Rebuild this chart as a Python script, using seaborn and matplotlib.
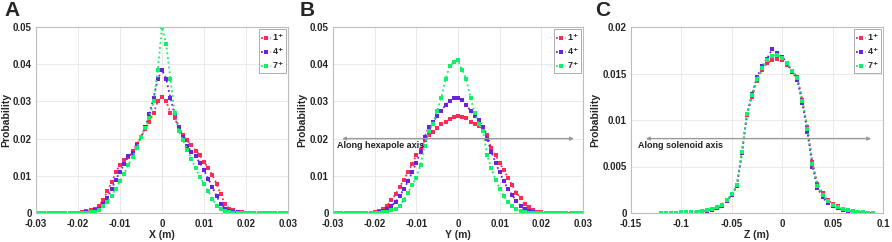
import numpy as np
import pandas as pd
import matplotlib
matplotlib.use("Agg")
import matplotlib.pyplot as plt
import seaborn as sns

sns.set_theme(style="whitegrid")
plt.rcParams['font.family'] = ['Liberation Sans', 'DejaVu Sans']
plt.rcParams['font.weight'] = 'bold'

series_names = ["1$^{+}$", "4$^{+}$", "7$^{+}$"]
series_colors = ["#FF2A55", "#6A22E0", "#12F06A"]

# ---- Panel A: X (m), step 0.001 from -0.030 to 0.030
x_a = [round(-0.030 + 0.001 * i, 3) for i in range(61)]
a_1 = [0, 0, 0, 0, 0, 0, 0, 0, 0, 0,
       0.0001, 0.0002, 0.0005, 0.0008, 0.0012, 0.002, 0.0035, 0.006, 0.0082, 0.011,
       0.013, 0.0142, 0.015, 0.0166, 0.0185, 0.0205, 0.0225, 0.0245, 0.027, 0.030,
       0.0313,
       0.0300, 0.027, 0.0255, 0.023, 0.021, 0.0195, 0.0182, 0.0168, 0.0155, 0.0138,
       0.012, 0.0102, 0.0078, 0.005, 0.0025, 0.0012, 0.0007, 0.0004, 0.0002, 0.0001,
       0, 0, 0, 0, 0, 0, 0, 0, 0, 0]
a_4 = [0, 0, 0, 0, 0, 0, 0, 0, 0, 0,
       0, 0.0001, 0.0002, 0.0004, 0.0007, 0.0012, 0.0025, 0.004, 0.0065, 0.009,
       0.011, 0.0132, 0.0152, 0.0162, 0.0182, 0.0205, 0.023, 0.0265, 0.031, 0.036,
       0.0385,
       0.036, 0.031, 0.0265, 0.023, 0.0205, 0.018, 0.0165, 0.0152, 0.0135, 0.0115,
       0.0092, 0.007, 0.0045, 0.0025, 0.0012, 0.0006, 0.0003, 0.0002, 0.0001, 0,
       0, 0, 0, 0, 0, 0, 0, 0, 0, 0]
a_7 = [0, 0, 0, 0, 0, 0, 0, 0, 0, 0,
       0, 0, 0.0001, 0.0002, 0.0004, 0.0008, 0.0018, 0.003, 0.0045, 0.0065,
       0.0085, 0.0105, 0.013, 0.015, 0.0175, 0.0205, 0.0228, 0.0255, 0.030, 0.0385,
       0.050,
       0.0455, 0.036, 0.027, 0.022, 0.0195, 0.017, 0.0145, 0.012, 0.0098, 0.0078,
       0.0058, 0.0038, 0.002, 0.001, 0.0005, 0.0002, 0.0001, 0, 0, 0,
       0, 0, 0, 0, 0, 0, 0, 0, 0, 0]

# ---- Panel B: Y (m), step 0.001 from -0.030 to 0.030
x_b = [round(-0.030 + 0.001 * i, 3) for i in range(61)]
b_1 = [0, 0, 0, 0, 0, 0, 0, 0, 0, 0.0001,
       0.0002, 0.0005, 0.001, 0.002, 0.0035, 0.005, 0.007, 0.009, 0.011, 0.0132,
       0.0155, 0.017, 0.0195, 0.021, 0.0218, 0.0228, 0.0238, 0.0245, 0.0252, 0.0258,
       0.026,
       0.0258, 0.0255, 0.0245, 0.024, 0.0235, 0.0232, 0.021, 0.0175, 0.0155, 0.0135,
       0.0115, 0.0095, 0.0075, 0.0055, 0.004, 0.0025, 0.0015, 0.0008, 0.0004, 0.0002,
       0.0001, 0, 0, 0, 0, 0, 0, 0, 0, 0]
b_4 = [0, 0, 0, 0, 0, 0, 0, 0, 0, 0,
       0.0001, 0.0002, 0.0005, 0.001, 0.0018, 0.003, 0.0045, 0.0065, 0.0085, 0.011,
       0.0135, 0.0165, 0.0205, 0.023, 0.0245, 0.026, 0.0275, 0.029, 0.0302, 0.0308,
       0.031,
       0.0305, 0.029, 0.0275, 0.026, 0.025, 0.023, 0.020, 0.0165, 0.0135, 0.011,
       0.0085, 0.0065, 0.0048, 0.0033, 0.002, 0.001, 0.0005, 0.0003, 0.0001, 0,
       0, 0, 0, 0, 0, 0, 0, 0, 0, 0]
b_7 = [0, 0, 0, 0, 0, 0, 0, 0, 0, 0,
       0, 0.0001, 0.0002, 0.0004, 0.0008, 0.0012, 0.002, 0.0035, 0.0055, 0.0075,
       0.0095, 0.013, 0.018, 0.022, 0.024, 0.0275, 0.031, 0.036, 0.0395, 0.0405,
       0.041,
       0.0385, 0.036, 0.031, 0.027, 0.024, 0.022, 0.0155, 0.012, 0.009, 0.0065,
       0.0045, 0.003, 0.002, 0.0012, 0.0006, 0.0003, 0.0001, 0, 0, 0,
       0, 0, 0, 0, 0, 0, 0, 0, 0, 0]

# ---- Panel C: Z (m), step 0.005 from -0.120 to 0.090
x_c = [round(-0.120 + 0.005 * i, 3) for i in range(43)]
c_1 = [0, 0.00002, 0.00003, 0.00005, 0.00007, 0.0001, 0.00012, 0.00015, 0.0002, 0.00027,
       0.00038, 0.0006, 0.0009, 0.0014, 0.002, 0.003, 0.0065, 0.0105, 0.0125, 0.0142,
       0.0154, 0.0161, 0.0165, 0.0166, 0.0164, 0.0159, 0.0153, 0.0146, 0.0122, 0.0092,
       0.0055, 0.0031, 0.0021, 0.0014, 0.001, 0.0007, 0.00045, 0.0003, 0.0002, 0.00013,
       0.00008, 0.00004, 0]
c_4 = [0, 0.00002, 0.00003, 0.00004, 0.00006, 0.00008, 0.0001, 0.00013, 0.00018, 0.00024,
       0.00034, 0.0005, 0.0008, 0.0013, 0.0019, 0.0029, 0.0064, 0.0106, 0.0128, 0.0146,
       0.0158, 0.0166, 0.0176, 0.0172, 0.0168, 0.0161, 0.0152, 0.0143, 0.0118, 0.0087,
       0.0050, 0.0027, 0.0017, 0.0011, 0.0008, 0.0005, 0.00033, 0.00022, 0.00014, 0.00009,
       0.00005, 0.00002, 0]
c_7 = [0, 0.00002, 0.00003, 0.00005, 0.00007, 0.0001, 0.00012, 0.00015, 0.0002, 0.00027,
       0.00038, 0.0006, 0.0009, 0.0014, 0.002, 0.003, 0.0066, 0.0106, 0.0127, 0.0144,
       0.0156, 0.0164, 0.0169, 0.0170, 0.0167, 0.0161, 0.0153, 0.0145, 0.0120, 0.0090,
       0.0053, 0.0029, 0.0019, 0.0013, 0.0009, 0.0006, 0.0004, 0.00027, 0.00018, 0.00011,
       0.00006, 0.00003, 0]

panels = [
    dict(letter="A", x=x_a, ys=[a_1, a_4, a_7], xlabel="X (m)",
         xlim=(-0.03, 0.03), xticks=[-0.03, -0.02, -0.01, 0, 0.01, 0.02, 0.03],
         xticklabels=["-0.03", "-0.02", "-0.01", "0", "0.01", "0.02", "0.03"],
         ylim=(0, 0.05), yticks=[0, 0.01, 0.02, 0.03, 0.04, 0.05],
         yticklabels=["0", "0.01", "0.02", "0.03", "0.04", "0.05"],
         rect=[36 / 892, 1 - 213 / 242, 252 / 892, 186 / 242], letter_x=4 / 892,
         arrow=None),
    dict(letter="B", x=x_b, ys=[b_1, b_4, b_7], xlabel="Y (m)",
         xlim=(-0.03, 0.03), xticks=[-0.03, -0.02, -0.01, 0, 0.01, 0.02, 0.03],
         xticklabels=["-0.03", "-0.02", "-0.01", "0", "0.01", "0.02", "0.03"],
         ylim=(0, 0.05), yticks=[0, 0.01, 0.02, 0.03, 0.04, 0.05],
         yticklabels=["0", "0.01", "0.02", "0.03", "0.04", "0.05"],
         rect=[333 / 892, 1 - 213 / 242, 250 / 892, 186 / 242], letter_x=300 / 892,
         arrow=dict(x0=-0.0285, x1=0.0285, y=0.02, text="Along hexapole axis",
                    tx=-0.0290, ty=0.0182)),
    dict(letter="C", x=x_c, ys=[c_1, c_4, c_7], xlabel="Z (m)",
         xlim=(-0.15, 0.1), xticks=[-0.15, -0.1, -0.05, 0, 0.05, 0.1],
         xticklabels=["-0.15", "-0.1", "-0.05", "0", "0.05", "0.1"],
         ylim=(0, 0.02), yticks=[0, 0.005, 0.01, 0.015, 0.02],
         yticklabels=["0", "0.005", "0.01", "0.015", "0.02"],
         rect=[631 / 892, 1 - 213 / 242, 252 / 892, 186 / 242], letter_x=595 / 892,
         arrow=dict(x0=-0.138, x1=0.091, y=0.008, text="Along solenoid axis",
                    tx=-0.143, ty=0.0073)),
]

fig = plt.figure(figsize=(8.92, 2.42), dpi=100)
fig.patch.set_facecolor("white")

for p in panels:
    ax = fig.add_axes(p["rect"])
    ax.set_facecolor("white")
    for name, col, yv in zip(series_names, series_colors, p["ys"]):
        df = pd.DataFrame({"x": p["x"], "y": yv})
        sns.lineplot(data=df, x="x", y="y", ax=ax, color=col, linestyle=":",
                     linewidth=1.3, marker="s", markersize=2.8,
                     markeredgewidth=0, label=name)
    ax.set_xlim(*p["xlim"])
    ax.set_ylim(*p["ylim"])
    ax.set_xticks(p["xticks"])
    ax.set_xticklabels(p["xticklabels"])
    ax.set_yticks(p["yticks"])
    ax.set_yticklabels(p["yticklabels"])
    ax.tick_params(axis="x", labelsize=7, pad=4.2, length=0)
    ax.tick_params(axis="y", labelsize=7, pad=3, length=0)
    for lab in ax.get_xticklabels() + ax.get_yticklabels():
        lab.set_fontweight("bold")
    ax.set_xlabel(p["xlabel"], fontsize=7.5, fontweight="bold", labelpad=0.5)
    ax.set_ylabel("Probability", fontsize=7.5, fontweight="bold", labelpad=1.5)
    ax.grid(True, color="#E6E6E6", linewidth=0.6)
    for s in ax.spines.values():
        s.set_color("#BDBDBD")
        s.set_linewidth(0.8)
    leg = ax.legend(loc="upper right", fontsize=6.5, frameon=True, fancybox=False,
                    handlelength=1.1, handletextpad=0.1, borderpad=0.25,
                    labelspacing=0.25, borderaxespad=0.25)
    leg.get_frame().set_edgecolor("#888888")
    leg.get_frame().set_linewidth(0.6)
    for t in leg.get_texts():
        t.set_fontweight("bold")
    a = p["arrow"]
    if a is not None:
        ax.annotate("", xy=(a["x1"], a["y"]), xytext=(a["x0"], a["y"]),
                    arrowprops=dict(arrowstyle="<|-|>", color="#9A9A9A",
                                    lw=1.0, mutation_scale=5))
        ax.text(a["tx"], a["ty"], a["text"], fontsize=6.5, fontweight="bold",
                ha="left", va="center", color="#222222")
    fig.text(p["letter_x"], 0.995, p["letter"], fontsize=15, fontweight="bold",
             ha="left", va="top")

fig.savefig("out.png", dpi=100, facecolor="white")
